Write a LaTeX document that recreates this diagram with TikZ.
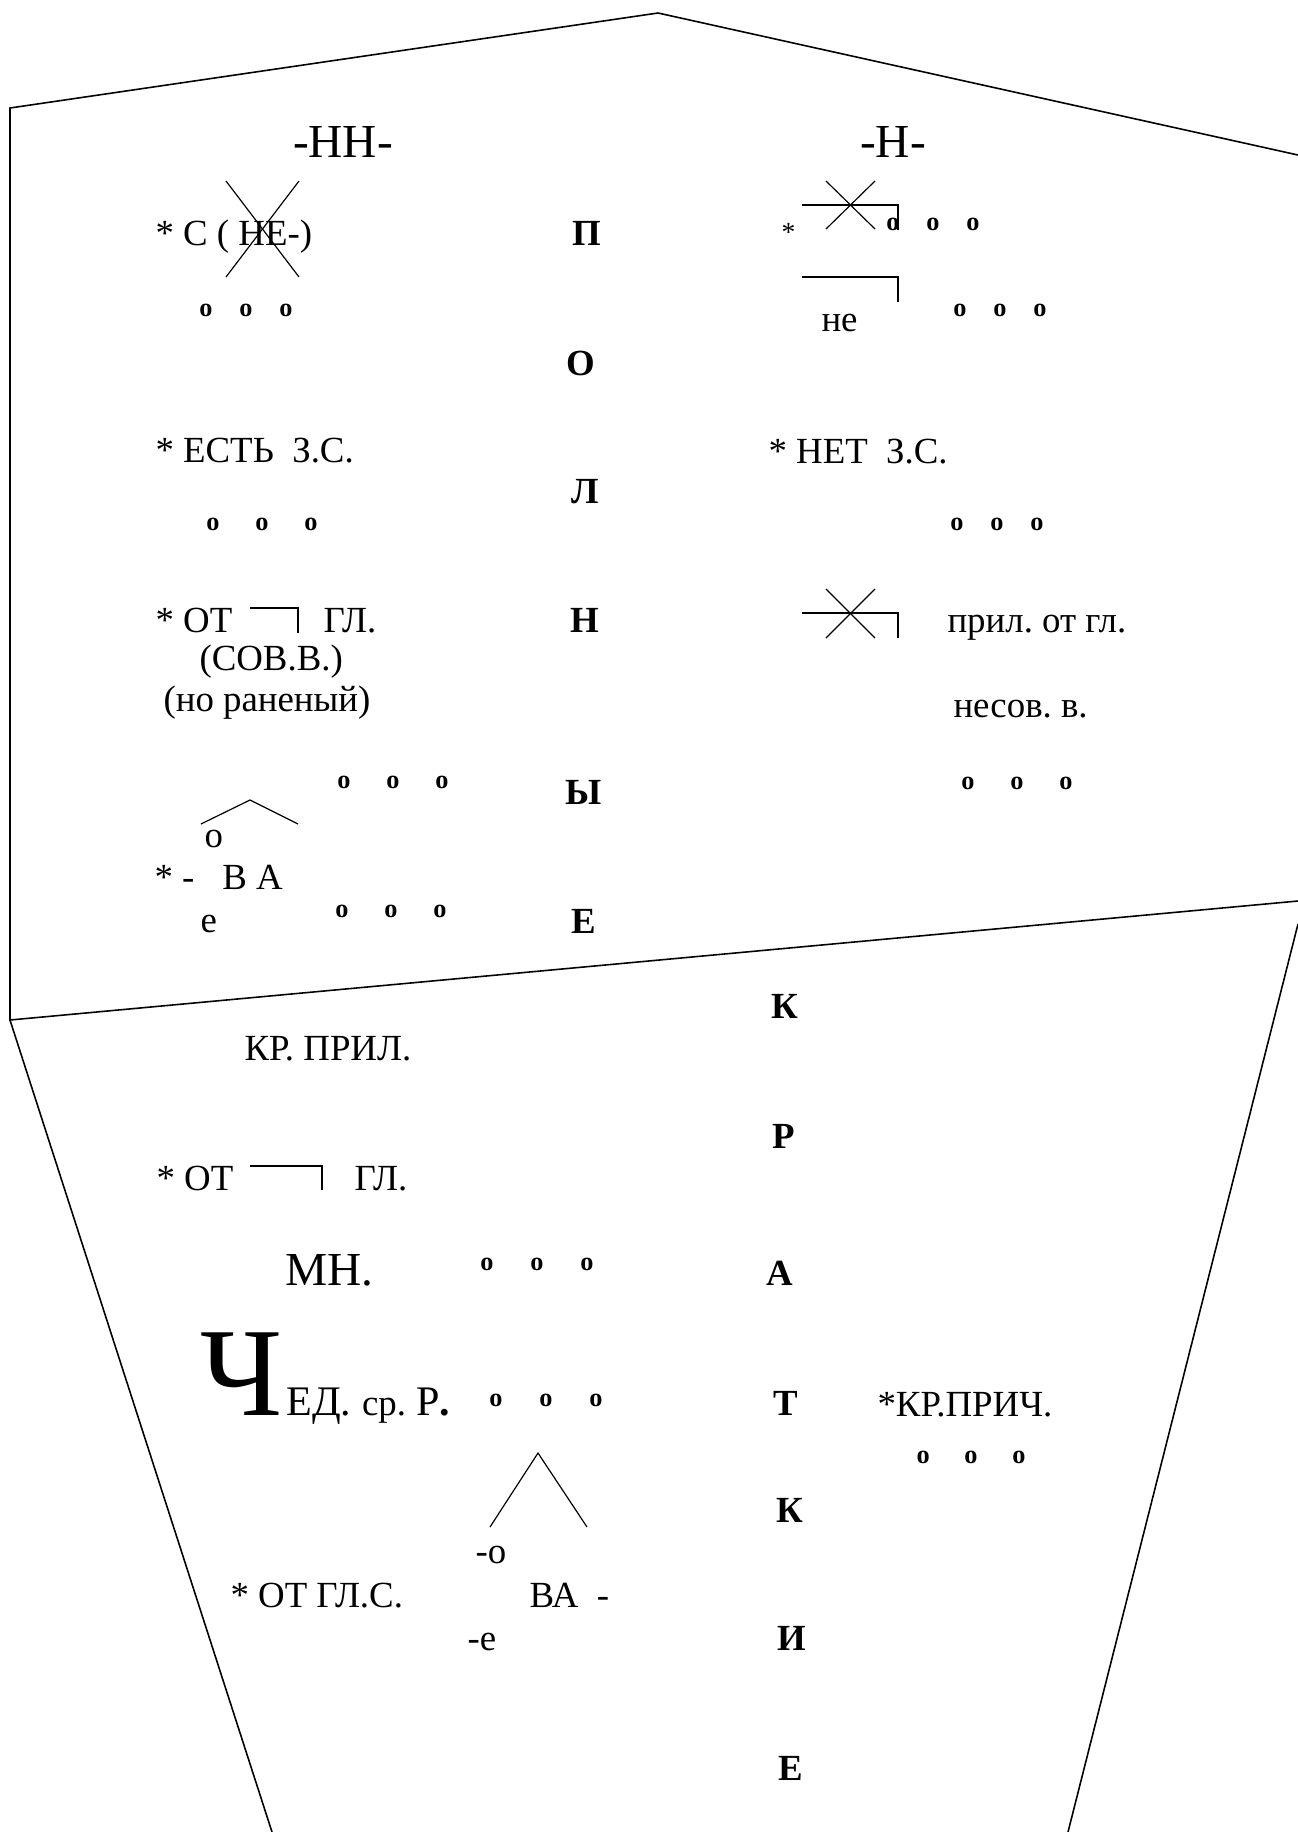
\documentclass[tikz,border=0pt]{standalone}
\usepackage{fontspec}
\setmainfont{Liberation Serif}
\usetikzlibrary{positioning}
\frenchspacing
\definecolor{Ink}{HTML}{000000}
\newcommand{\tripleo}[1]{\makebox[#1]{o}\makebox[#1]{o}\makebox[#1]{o}}
\tikzset{
  txt/.style={inner sep=0pt,anchor=base west,font=\fontsize{14}{17}\selectfont,text=Ink},
  head/.style={inner sep=0pt,anchor=base,font=\fontsize{18}{21}\selectfont,text=Ink},
  letter/.style={inner sep=0pt,anchor=base,font=\fontsize{14}{17}\selectfont\bfseries,text=Ink},
  trio/.style={inner sep=0pt,anchor=base,font=\fontsize{10}{12}\selectfont\bfseries,text=Ink},
  rim/.style={draw=Ink,line width=0.6pt,line join=miter},
  strike/.style={draw=Ink,line width=0.45pt}
}

\begin{document}
\begin{tikzpicture}[x=0.38pt,y=-0.38pt]
  \useasboundingbox (0,0) rectangle (1298,1832);
  % outline of the two sheets
  \coordinate (peak) at (658,13);
  \coordinate (lefttop) at (10,108);
  \coordinate (leftmid) at (10,1020);
  \coordinate (rightup) at (1298,155);
  \coordinate (rightmid) at (1298,901);
  \coordinate (rightlow) at (1298,924);
  \coordinate (botleft) at (272,1832);
  \coordinate (botright) at (1068,1832);
  \draw[rim] (rightup) -- (peak) -- (lefttop) -- (leftmid) -- (rightmid);
  \draw[rim] (leftmid) -- (botleft);
  \draw[rim] (rightlow) -- (botright);

  % headings
  \node[head] (hdnn) at (343,157) {-НН-};
  \node[head] (hdn) at (893,157) {-Н-};

  % middle column, top sheet
  \node[letter] (lp) at (587,245) {П};
  \node[letter] (lo) at (581,375) {О};
  \node[letter] (ll) at (585,503) {Л};
  \node[letter] (ln) at (585,632) {Н};
  \node[letter] (ly) at (584,804) {Ы};
  \node[letter] (le) at (584,933) {Е};

  % left column, top sheet
  \node[txt] (sne) at (155,245) {* С ( НЕ-)};
  \draw[strike] (226,181) -- (299,277);
  \draw[strike] (299,181) -- (226,277);
  \node[trio] (o1) at (246,316) {\tripleo{15.2pt}};
  \node[txt] (est) at (155,462) {* ЕСТЬ\ \ З.С.};
  \node[trio] (o2) at (262,530) {\tripleo{18.6pt}};
  \node[txt] (otg) at (155,632) {* ОТ};
  \draw[strike] (250,608) -- (298,608) -- (298,633);
  \node[txt] (glv) at (323,632) {ГЛ.};
  \node[txt] (sov) at (199,670) {(СОВ.В.)};
  \node[txt] (ran) at (163,711) {(но раненый)};
  \draw[strike] (201,824) -- (250,800) -- (298,824);
  \node[txt] (vo) at (204,847) {о};
  \node[txt] (va) at (154,889) {* -\hspace{10.6pt}В А};
  \node[txt] (ve) at (200,932) {е};
  \node[trio] (o3) at (393,788) {\tripleo{18.6pt}};
  \node[trio] (o4) at (391,917) {\tripleo{18.6pt}};

  % right column, top sheet
  \node[inner sep=0pt,anchor=base west,font=\fontsize{10.5}{12}\selectfont,text=Ink] (star) at (781,241) {*};
  \draw[strike] (802,205) -- (898,205) -- (898,230);
  \draw[strike] (826,181) -- (875,229);
  \draw[strike] (875,181) -- (826,229);
  \node[trio] (o5) at (933,230) {\tripleo{15.2pt}};
  \draw[strike] (802,277) -- (898,277) -- (898,302);
  \node[txt] (ne) at (821,331) {не};
  \node[trio] (o6) at (1000,316) {\tripleo{15.2pt}};
  \node[txt] (net) at (768,463) {* НЕТ\ \ З.С.};
  \node[trio] (o7) at (997,530) {\tripleo{15.2pt}};
  \draw[strike] (802,613) -- (898,613) -- (898,638);
  \draw[strike] (826,589) -- (875,638);
  \draw[strike] (875,589) -- (826,638);
  \node[txt] (pril) at (947,632) {прил. от гл.};
  \node[txt] (nesov) at (953,717) {несов. в.};
  \node[trio] (o8) at (1017,789) {\tripleo{18.6pt}};

  % middle column, lower sheet
  \node[letter] (kk) at (785,1018) {К};
  \node[letter] (kr) at (784,1148) {Р};
  \node[letter] (ka) at (780,1285) {А};
  \node[letter] (kt) at (786,1415) {Т};
  \node[letter] (kk2) at (790,1522) {К};
  \node[letter] (ki) at (792,1650) {И};
  \node[letter] (ke) at (791,1780) {Е};

  % lower sheet
  \node[txt] (krpr) at (244,1060) {КР. ПРИЛ.};
  \node[txt] (otg2) at (156,1190) {* ОТ};
  \draw[strike] (250,1166) -- (322,1166) -- (322,1190);
  \node[txt] (gl2) at (354,1190) {ГЛ.};
  \node[head,anchor=base west] (mn) at (285,1285) {МН.};
  \node[trio] (o9) at (537,1270) {\tripleo{19pt}};
  \node[inner sep=0pt,anchor=base west,font=\fontsize{48}{52}\selectfont,text=Ink] (ch) at (200,1415) {Ч};
  \node[inner sep=0pt,anchor=base west,font=\fontsize{16}{18}\selectfont,text=Ink] (ed) at (286,1415) {ЕД. {\fontsize{14}{16}\selectfont ср.} Р\textbf{.}};
  \node[trio] (o10) at (546,1406) {\tripleo{19pt}};
  \node[txt] (krpri) at (877,1416) {*КР.ПРИЧ.};
  \node[trio] (o11) at (971,1463) {\tripleo{18.2pt}};
  \draw[strike] (490,1527) -- (538,1453) -- (587,1527);
  \node[txt] (mo) at (475,1563) {-о};
  \node[txt] (otgls) at (230,1607) {* ОТ ГЛ.С.};
  \node[txt] (vad) at (529,1607) {ВА\hspace{7pt}-};
  \node[txt] (me) at (467,1650) {-е};
\end{tikzpicture}
\end{document}
